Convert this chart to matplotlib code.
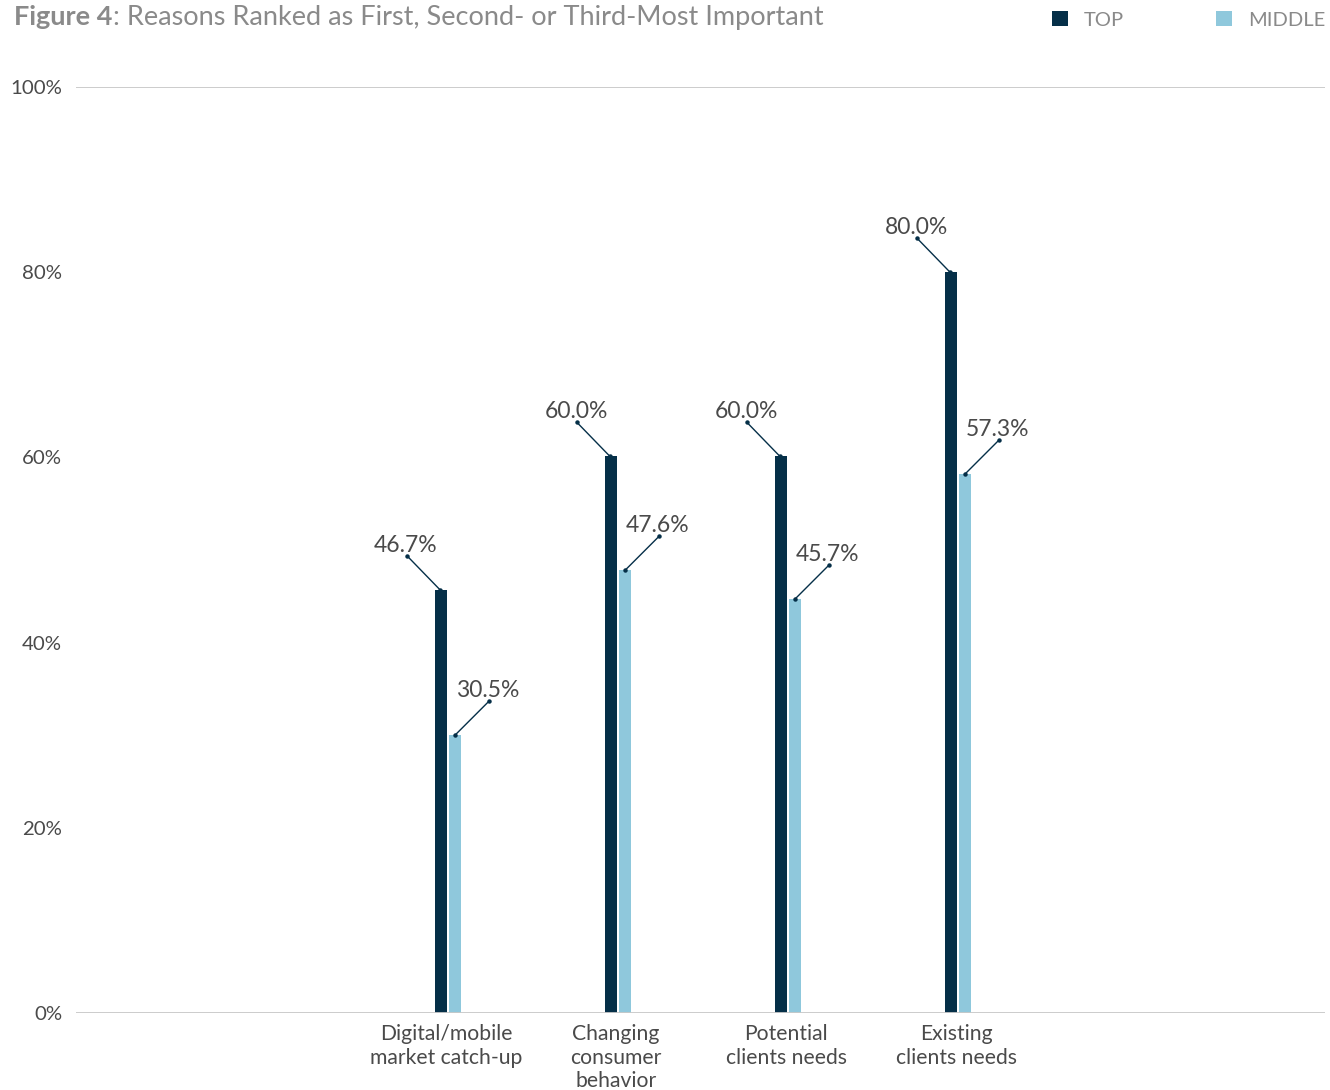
import matplotlib
matplotlib.use("Agg")
import matplotlib.pyplot as plt
from matplotlib.patches import Patch
import numpy as np

# ---- data ----
categories = ["Digital/mobile\nmarket catch-up", "Changing\nconsumer\nbehavior",
              "Potential\nclients needs", "Existing\nclients needs"]
top_values = [45.7, 60.1, 60.1, 80.0]
middle_values = [30.0, 47.8, 44.7, 58.2]
top_labels = ["46.7%", "60.0%", "60.0%", "80.0%"]
middle_labels = ["30.5%", "47.6%", "45.7%", "57.3%"]
yticks = [0, 20, 40, 60, 80, 100]
ytick_labels = ["0%", "20%", "40%", "60%", "80%", "100%"]
series_names = ["TOP", "MIDDLE"]

TOP_C = "#052f48"
MID_C = "#8fc8dc"
TXT = "#4a4a4a"
GRID = "#c8c8c8"

plt.rcParams['font.family'] = ['Lato', 'DejaVu Sans']

fig = plt.figure(figsize=(13.3, 10.9), dpi=100)
ax = fig.add_axes([76/1330, 77/1090, (1325-76)/1330, (1013-87)/1090])

x = np.arange(len(categories))
w = 0.071
off = 0.041
gx = x + 2/170
ax.bar(gx - off, top_values, width=w, color=TOP_C, zorder=3)
ax.bar(gx + off, middle_values, width=w, color=MID_C, zorder=3)

ax.set_xlim(-370/170, 3 + 369/170)
ax.set_ylim(0, 100)

for s in ax.spines.values():
    s.set_visible(False)
ax.axhline(100, color=GRID, lw=1.3, zorder=1)
ax.axhline(0, color=GRID, lw=1.3, zorder=4)

ax.set_yticks(yticks)
ax.set_yticklabels(ytick_labels, fontsize=14.7, color=TXT)
ax.tick_params(axis='y', length=0, pad=10)
ax.set_xticks(x)
ax.set_xticklabels(categories, fontsize=15.2, color=TXT, linespacing=1.22)
ax.tick_params(axis='x', length=0, pad=8)

trans = ax.transData
for i in range(len(categories)):
    # TOP: leader up-left
    xt = gx[i] - off - 1/170
    ax.annotate("", xy=(xt, top_values[i]), xycoords='data',
                xytext=(-33, 34), textcoords='offset pixels',
                arrowprops=dict(arrowstyle='-', color=TOP_C, lw=1.0,
                                shrinkA=0, shrinkB=0), zorder=5)
    ax.annotate(top_labels[i], xy=(xt, top_values[i]), xycoords='data',
                xytext=(-34, 38), textcoords='offset pixels',
                ha='center', va='baseline', fontsize=16.5, color=TXT)
    px, py = trans.transform((xt, top_values[i]))
    dx, dy = trans.inverted().transform((px - 33, py + 34))
    ax.plot([dx, xt], [dy, top_values[i]], 'o', ms=2.2, color=TOP_C, zorder=6)

    # MIDDLE: leader up-right
    xm = gx[i] + off
    ax.annotate("", xy=(xm, middle_values[i]), xycoords='data',
                xytext=(34, 34), textcoords='offset pixels',
                arrowprops=dict(arrowstyle='-', color=TOP_C, lw=1.0,
                                shrinkA=0, shrinkB=0), zorder=5)
    ax.annotate(middle_labels[i], xy=(xm, middle_values[i]), xycoords='data',
                xytext=(33, 38), textcoords='offset pixels',
                ha='center', va='baseline', fontsize=16.5, color=TXT)
    px, py = trans.transform((xm, middle_values[i]))
    dx, dy = trans.inverted().transform((px + 34, py + 34))
    ax.plot([dx, xm], [dy, middle_values[i]], 'o', ms=2.2, color=TOP_C, zorder=6)

# title: bold part then regular part placed right after it
t1 = fig.text(14/1330, 1 - 17/1090, "Figure 4", fontsize=19.5, fontweight='bold',
              color="#8a8a8a", va='center', ha='left')
fig.canvas.draw()
bb = t1.get_window_extent(renderer=fig.canvas.get_renderer())
fig.text(bb.x1 / 1330 + 1/1330, 1 - 17/1090,
         ": Reasons Ranked as First, Second- or Third-Most Important",
         fontsize=19.5, color="#8a8a8a", va='center', ha='left')

# legend
handles = [Patch(facecolor=TOP_C), Patch(facecolor=MID_C)]
leg = fig.legend(handles, series_names, loc='center right',
                 bbox_to_anchor=(1343/1330, 1 - 20/1090), ncol=2, frameon=False,
                 fontsize=14.5, handlelength=0.75, handleheight=0.75,
                 handletextpad=0.8, columnspacing=4.6, labelcolor="#8a8a8a")

fig.savefig("out.png", dpi=100, facecolor='white')
